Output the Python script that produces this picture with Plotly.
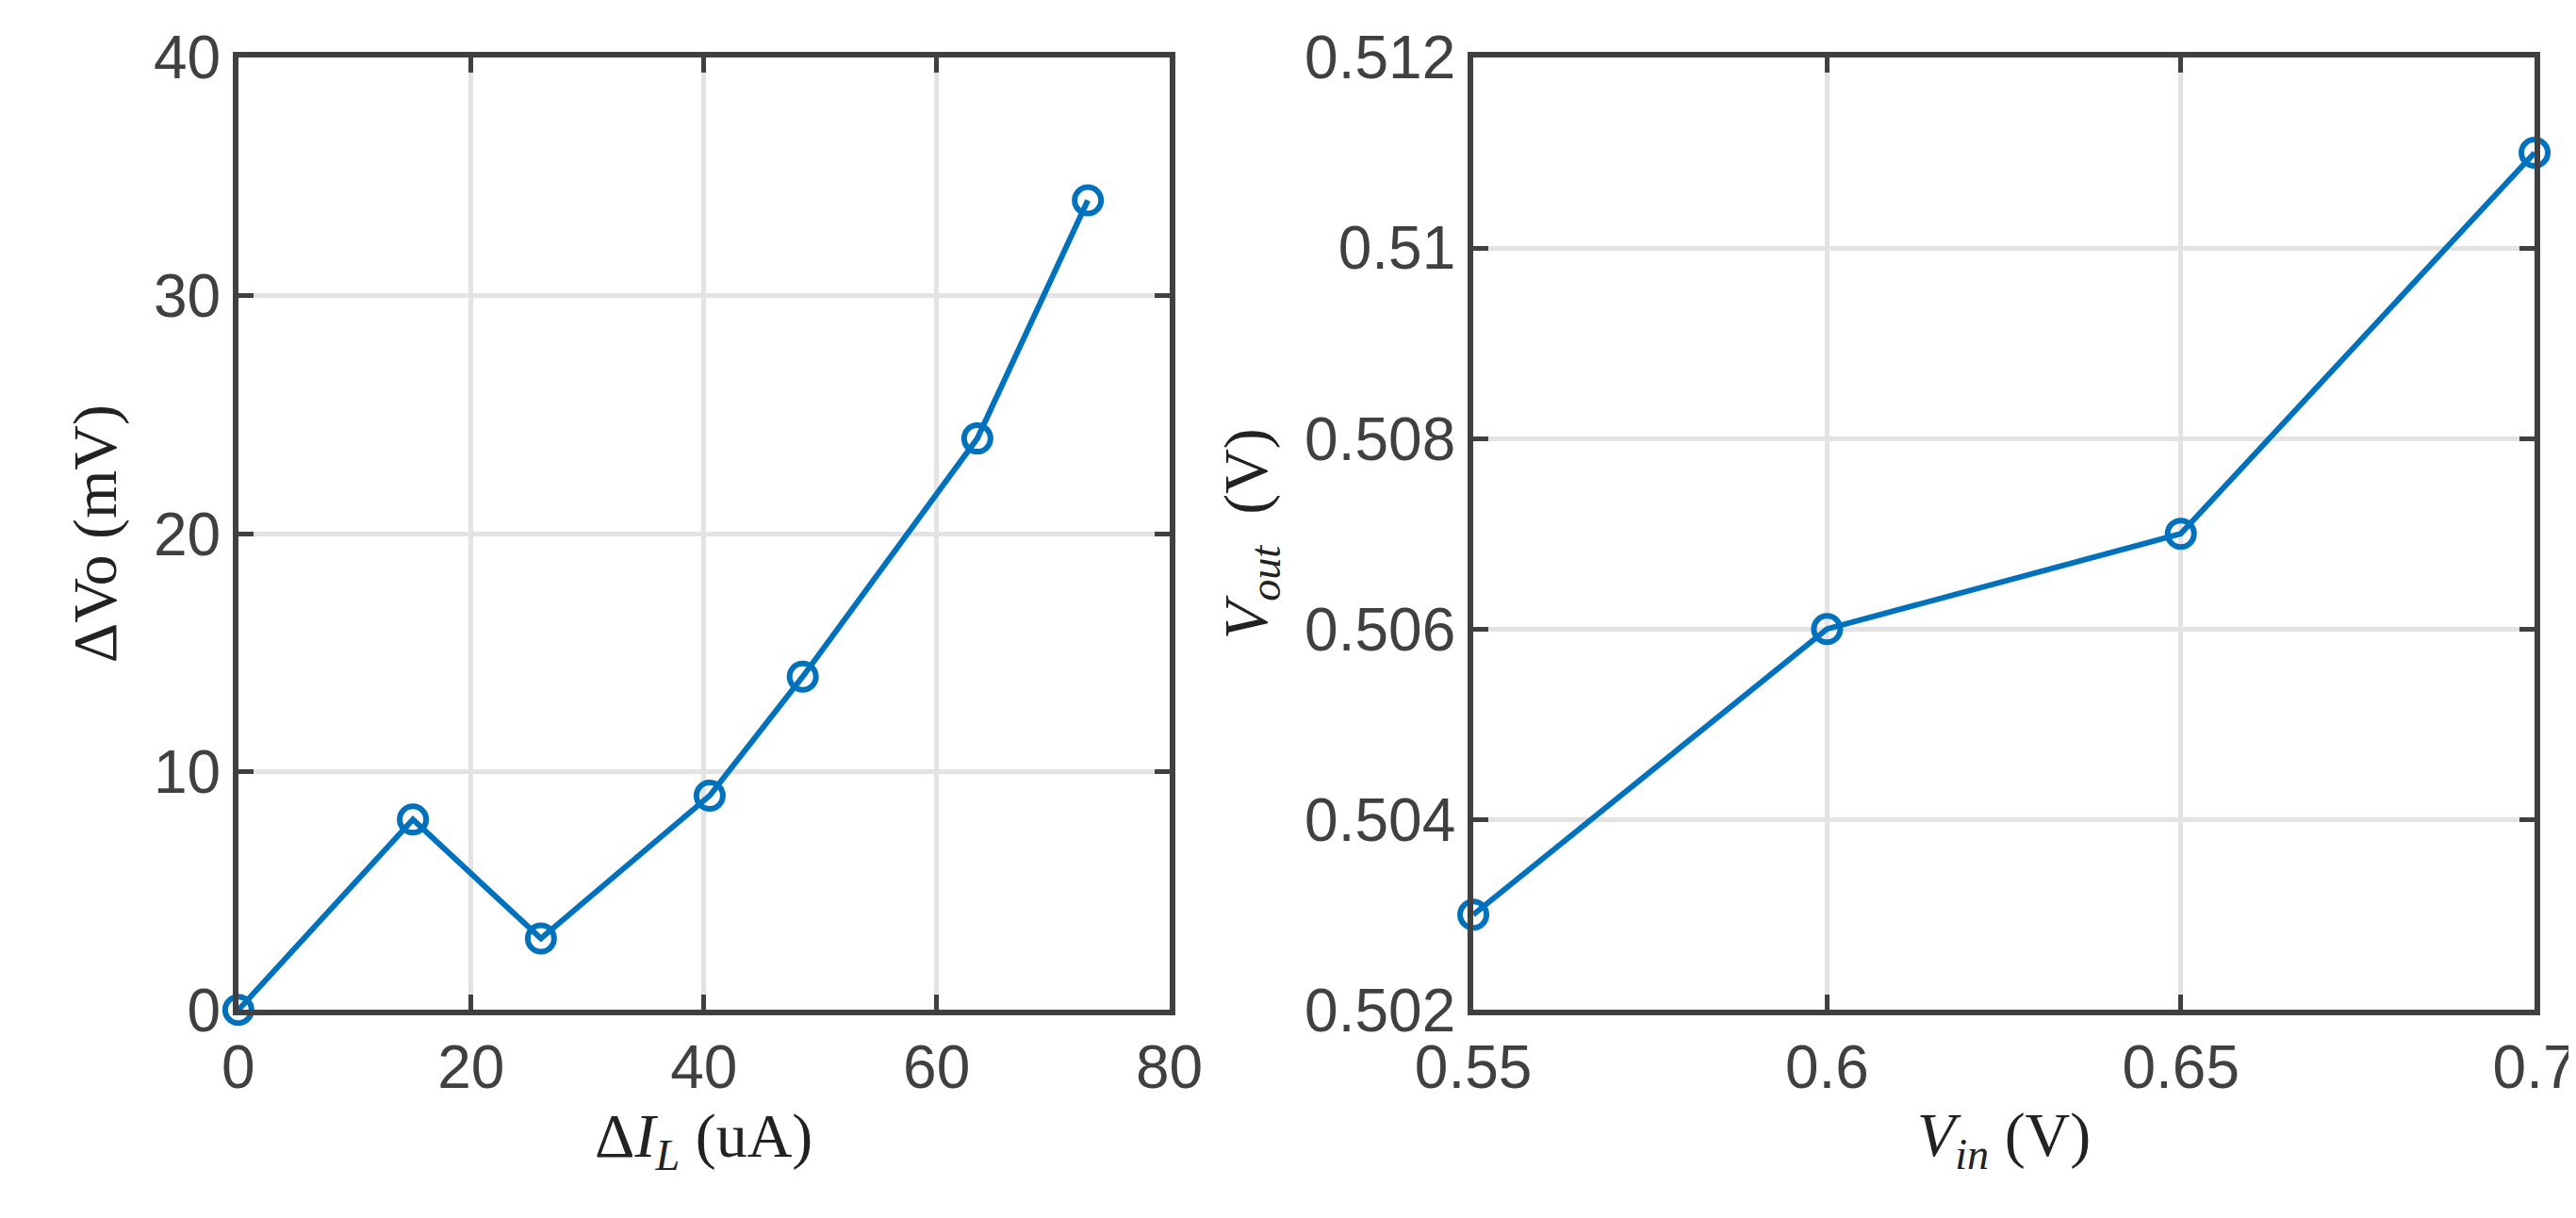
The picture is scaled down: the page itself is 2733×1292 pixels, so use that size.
import plotly.graph_objects as go
from plotly.subplots import make_subplots

# left panel: load current step vs output voltage change
dil = [0, 15, 26, 40.5, 48.5, 63.5, 73]
dvo = [0, 8, 3, 9, 14, 24, 34]

# right panel: line regulation
vin = [0.55, 0.6, 0.65, 0.7]
vout = [0.503, 0.506, 0.507, 0.511]

blue = '#0072BD'
axc = '#404040'
tickfont = dict(family='Liberation Sans, Arial', size=64, color=axc)
titlefont = dict(family='Liberation Serif, DejaVu Serif', size=66, color='#222222')

fig = make_subplots(rows=1, cols=2)
for x, y, c in [(dil, dvo, 1), (vin, vout, 2)]:
    fig.add_trace(go.Scatter(x=x, y=y, mode='lines+markers', showlegend=False,
                             cliponaxis=False,
                             line=dict(color=blue, width=6),
                             marker=dict(symbol='circle-open', size=28, color=blue,
                                         line=dict(width=6, color=blue))),
                  row=1, col=c)

ax = dict(showgrid=True, gridcolor='#e3e3e3', gridwidth=5, zeroline=False,
          showline=True, mirror='ticks', linecolor=axc, linewidth=6, automargin=False,
          ticks='inside', ticklen=16, tickwidth=5, tickcolor=axc, tickfont=tickfont)

fig.update_layout(
    width=2733, height=1292, plot_bgcolor='white', paper_bgcolor='white',
    margin=dict(l=0, r=0, t=0, b=0),
    xaxis=dict(ax, domain=[0.0896, 0.451], range=[0, 80], dtick=20,
               title=dict(text='Δ<i>I<sub>L</sub></i> (uA)', font=titlefont, standoff=15)),
    yaxis=dict(ax, domain=[0.177, 0.959], range=[0, 40], dtick=10,
               title=dict(text='ΔVo (mV)', font=titlefont, standoff=20)),
    xaxis2=dict(ax, domain=[0.569, 0.981], range=[0.55, 0.7],
                tickvals=[0.55, 0.6, 0.65, 0.7], ticktext=['0.55', '0.6', '0.65', '0.7'],
                title=dict(text='<i>V<sub>in</sub></i> (V)', font=titlefont, standoff=15)),
    yaxis2=dict(ax, domain=[0.177, 0.959], range=[0.502, 0.512],
                tickvals=[0.502, 0.504, 0.506, 0.508, 0.51, 0.512],
                ticktext=['0.502', '0.504', '0.506', '0.508', '0.51', '0.512'],
                title=dict(text='<i>V<sub>out</sub></i>  (V)', font=titlefont, standoff=20)),
)

fig.write_html("out.html")
